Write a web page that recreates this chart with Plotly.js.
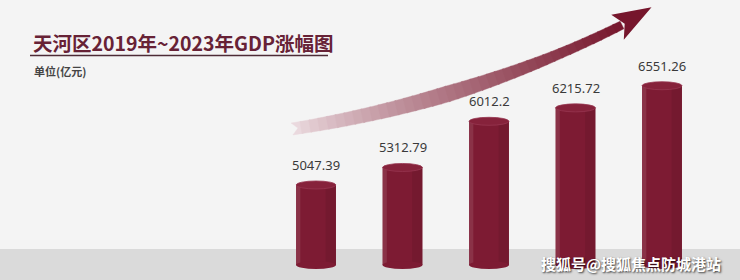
<!DOCTYPE html>
<html>
<head>
<meta charset="utf-8">
<script src="https://cdn.plot.ly/plotly-3.0.1.min.js"></script>
<style>html,body{margin:0;padding:0;background:#f4f4f4;}#chart{width:740px;height:280px;}</style>
</head>
<body>
<div id="chart"></div>
<script>
// ---- data ----
const years = ['2019', '2020', '2021', '2022', '2023'];
const gdp = [5047.39, 5312.79, 6012.2, 6215.72, 6551.26];
const valueLabels = ['5047.39', '5312.79', '6012.2', '6215.72', '6551.26'];
const titleText = '天河区2019年~2023年GDP涨幅图';
const unitText = '单位(亿元)';
const watermark = '搜狐号@搜狐焦点防城港站';

// ---- geometry (pixels) ----
const W = 740, H = 280;
const pxPerUnit = 0.066;          // vertical scale
const basePx = 265;               // pixel row of bar base
const baseVal = 3835;             // axis value at bar base
const domBottomPx = 273;
const yLow = baseVal - (domBottomPx - basePx) / pxPerUnit;
const yHigh = baseVal + basePx / pxPerUnit;
const barW = 0.462;
const capPx = 4;
const capVal = capPx / pxPerUnit;

const px = x => x / W;
const py = y => 1 - y / H;

const shapes = [];
// bottom gray band
shapes.push({type: 'rect', xref: 'paper', yref: 'paper', x0: 0, x1: 1, y0: 0, y1: py(249),
  fillcolor: '#dadada', line: {width: 0}, layer: 'below'});
// title underline
shapes.push({type: 'line', xref: 'paper', yref: 'paper', x0: px(30), x1: px(328), y0: py(55.5), y1: py(55.5),
  line: {color: '#4d2b36', width: 1.6}});

// cylinder caps
years.forEach((yr, i) => {
  shapes.push({type: 'circle', xref: 'x', yref: 'y', x0: i - barW / 2, x1: i + barW / 2,
    y0: baseVal - capVal, y1: baseVal + capVal, fillcolor: '#7d1b33', line: {width: 0}});
  shapes.push({type: 'circle', xref: 'x', yref: 'y', x0: i - barW / 2, x1: i + barW / 2,
    y0: gdp[i] - capVal, y1: gdp[i] + capVal, fillcolor: '#86223b', line: {color: '#973650', width: 0.8}});
});

// decorative gradient arrow
(function () {
  const P0 = [292, 129], P1 = [470, 101], P2 = [622, 25];
  const bez = t => [
    (1 - t) * (1 - t) * P0[0] + 2 * (1 - t) * t * P1[0] + t * t * P2[0],
    (1 - t) * (1 - t) * P0[1] + 2 * (1 - t) * t * P1[1] + t * t * P2[1]];
  const tan = t => {
    const dx = 2 * (1 - t) * (P1[0] - P0[0]) + 2 * t * (P2[0] - P1[0]);
    const dy = 2 * (1 - t) * (P1[1] - P0[1]) + 2 * t * (P2[1] - P1[1]);
    const l = Math.hypot(dx, dy); return [dx / l, dy / l];
  };
  const wid = t => {
    if (t < 0.45) return 12 + (t / 0.45) * 4;
    if (t < 0.8) return 16 - ((t - 0.45) / 0.35) * 6;
    return 10 - ((t - 0.8) / 0.2) * 1.5;
  };
  const light = [238, 224, 228], dark = [118, 22, 44];
  const col = t => {
    const k = Math.pow(t, 0.8);
    const c = light.map((v, j) => Math.round(v + (dark[j] - v) * k));
    return `rgb(${c[0]},${c[1]},${c[2]})`;
  };
  const edge = (t, s) => {
    const p = bez(t), d = tan(t), n = [d[1], -d[0]];
    const w = wid(t) / 2 * s;
    return [p[0] - n[0] * w, p[1] - n[1] * w];
  };
  const N = 40;
  const pt = p => `${px(p[0]).toFixed(5)},${py(p[1]).toFixed(5)}`;
  for (let k = 0; k < N; k++) {
    const ta = k / N, tb = (k + 1) / N + (k < N - 1 ? 0.004 : 0);
    const a1 = edge(ta, 1), a2 = edge(ta, -1), b1 = edge(tb, 1), b2 = edge(tb, -1);
    let path = `M${pt(a1)} L${pt(b1)} L${pt(b2)} L${pt(a2)}`;
    if (k === 0) {
      const p = bez(0), d = tan(0);
      path += ` L${pt([p[0] + d[0] * 6, p[1] + d[1] * 6])}`;
    }
    path += ' Z';
    const c = col((ta + tb) / 2);
    shapes.push({type: 'path', xref: 'paper', yref: 'paper', path: path, fillcolor: c, line: {color: c, width: 0.4}});
  }
  // head
  const p = P2, d = tan(1), n = [d[1], -d[0]];
  const tip = [p[0] + d[0] * 33, p[1] + d[1] * 33 - 3];
  const bA = [p[0] + n[0] * 14 - d[0] * 5, p[1] + n[1] * 14 - d[1] * 5];
  const bB = [p[0] - n[0] * 14 - d[0] * 5, p[1] - n[1] * 14 - d[1] * 5];
  const notch = [p[0] + d[0] * 3, p[1] + d[1] * 3];
  shapes.push({type: 'path', xref: 'paper', yref: 'paper',
    path: `M${pt(tip)} L${pt(bA)} L${pt(notch)} L${pt(bB)} Z`, fillcolor: 'rgb(118,22,44)', line: {width: 0}});
})();

const annotations = [];
annotations.push({xref: 'paper', yref: 'paper', x: px(31), y: py(42), xanchor: 'left', yanchor: 'middle',
  text: '<b>' + titleText + '</b>', showarrow: false,
  font: {family: 'Noto Sans CJK SC, Noto Sans', size: 19.5, color: '#672236'}});
annotations.push({xref: 'paper', yref: 'paper', x: px(32), y: py(71), xanchor: 'left', yanchor: 'middle',
  text: unitText, showarrow: false,
  font: {family: 'Noto Sans CJK SC', size: 11, color: '#444444', weight: 600}});
years.forEach((yr, i) => {
  annotations.push({x: i, y: gdp[i], xref: 'x', yref: 'y', yshift: 20, yanchor: 'middle', xanchor: 'center',
    text: valueLabels[i], showarrow: false,
    font: {family: 'Noto Sans', size: 13, color: '#3a3a3a'}});
});
annotations.push({xref: 'paper', yref: 'paper', x: px(723), y: py(263), xanchor: 'right', yanchor: 'middle',
  text: watermark, showarrow: false,
  font: {family: 'Noto Sans CJK SC', size: 15, color: '#ffffff', weight: 700, shadow: '1px 1px 2px rgba(0,0,0,0.75)'}});

const traces = [
  {type: 'bar', x: years, y: gdp.map(v => v - baseVal), base: baseVal, width: barW,
   marker: {color: '#7d1b33', line: {width: 0}}, hoverinfo: 'skip'},
  // left highlight strip of the cylinder
  {type: 'bar', x: years, y: gdp.map(v => v - baseVal), base: baseVal, width: 0.05, offset: -barW / 2,
   marker: {color: 'rgba(255,255,255,0.10)', line: {width: 0}}, hoverinfo: 'skip'},
  // right shadow strip of the cylinder
  {type: 'bar', x: years, y: gdp.map(v => v - baseVal), base: baseVal, width: 0.12, offset: barW / 2 - 0.12,
   marker: {color: 'rgba(0,0,0,0.07)', line: {width: 0}}, hoverinfo: 'skip'}
];

const layout = {
  width: W, height: H,
  margin: {l: 0, r: 0, t: 0, b: 0},
  paper_bgcolor: '#f4f4f4', plot_bgcolor: 'rgba(0,0,0,0)',
  barmode: 'overlay', showlegend: false,
  xaxis: {type: 'category', domain: [272.75 / W, 705.25 / W], range: [-0.5, 4.5], visible: false, fixedrange: true},
  yaxis: {domain: [py(domBottomPx), 1], range: [yLow, yHigh], visible: false, fixedrange: true},
  shapes: shapes, annotations: annotations
};

Plotly.newPlot('chart', traces, layout, {displayModeBar: false, staticPlot: true});
</script>
</body>
</html>
